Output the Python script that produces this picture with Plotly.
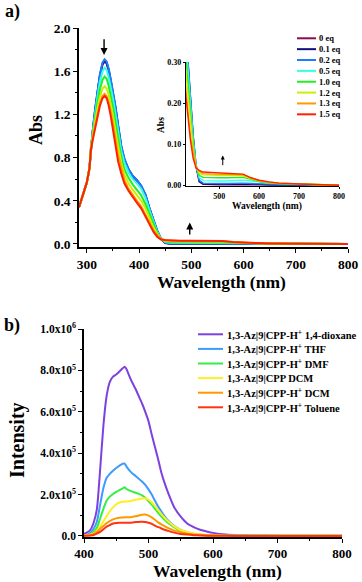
import plotly.graph_objects as go

# ---------------- Panel a: UV-vis titration ----------------
W_ABS = [285, 290, 295, 300, 305, 308, 312, 316, 320, 325, 330, 334, 338, 342, 346,
         350, 355, 360, 366, 372, 380, 388, 396, 404, 412, 420, 428, 435, 442, 450,
         460, 480, 500, 520, 540, 560, 580, 600, 625, 650, 700, 750, 800]

EQ_LABELS = ["0 eq", "0.1 eq", "0.2 eq", "0.5 eq", "1.0 eq", "1.2 eq", "1.3 eq", "1.5 eq"]
EQ_COLORS = ["#8B0A50", "#10107A", "#1E7BFF", "#33FFE6", "#22EE22", "#CCEE00", "#FF9900", "#FF2200"]

ABS_0 = [0.34, 0.41, 0.49, 0.57, 0.70, 0.90, 1.07, 1.24, 1.38, 1.55, 1.66, 1.69, 1.67, 1.60, 1.50,
         1.40, 1.25, 1.08, 0.89, 0.77, 0.68, 0.62, 0.58, 0.53, 0.45, 0.32, 0.20, 0.11, 0.045, 0.008,
         0.002, 0.001, 0.001, 0.001, 0.001, 0.001, 0.001, 0.001, 0.0, 0.0, 0.0, 0.0, 0.0]
ABS_01 = [0.34, 0.41, 0.49, 0.57, 0.70, 0.90, 1.08, 1.25, 1.39, 1.56, 1.67, 1.70, 1.68, 1.61, 1.51,
          1.41, 1.26, 1.09, 0.90, 0.78, 0.69, 0.63, 0.59, 0.54, 0.46, 0.33, 0.21, 0.12, 0.05, 0.010,
          0.003, 0.002, 0.002, 0.002, 0.002, 0.003, 0.002, 0.002, 0.001, 0.001, 0.0, 0.0, 0.0]
ABS_02 = [0.34, 0.41, 0.49, 0.57, 0.70, 0.90, 1.08, 1.25, 1.40, 1.57, 1.68, 1.71, 1.69, 1.62, 1.52,
          1.42, 1.27, 1.10, 0.91, 0.79, 0.69, 0.63, 0.59, 0.54, 0.46, 0.33, 0.21, 0.12, 0.05, 0.012,
          0.005, 0.004, 0.004, 0.004, 0.005, 0.005, 0.004, 0.003, 0.002, 0.002, 0.001, 0.001, 0.0]
ABS_05 = [0.34, 0.41, 0.49, 0.57, 0.70, 0.90, 1.06, 1.22, 1.35, 1.50, 1.60, 1.63, 1.61, 1.54, 1.45,
          1.35, 1.20, 1.04, 0.86, 0.75, 0.66, 0.60, 0.56, 0.51, 0.43, 0.31, 0.20, 0.11, 0.05, 0.018,
          0.011, 0.010, 0.010, 0.010, 0.011, 0.012, 0.010, 0.007, 0.005, 0.004, 0.002, 0.001, 0.0]
ABS_10 = [0.34, 0.41, 0.49, 0.57, 0.70, 0.89, 1.04, 1.18, 1.30, 1.43, 1.52, 1.55, 1.53, 1.46, 1.37,
          1.27, 1.12, 0.96, 0.80, 0.69, 0.61, 0.55, 0.50, 0.45, 0.37, 0.27, 0.17, 0.10, 0.045, 0.024,
          0.019, 0.018, 0.018, 0.018, 0.019, 0.019, 0.014, 0.009, 0.006, 0.004, 0.002, 0.001, 0.0]
ABS_12 = [0.34, 0.41, 0.49, 0.57, 0.70, 0.89, 1.02, 1.14, 1.25, 1.36, 1.44, 1.46, 1.44, 1.38, 1.29,
          1.19, 1.04, 0.89, 0.75, 0.64, 0.56, 0.50, 0.45, 0.40, 0.33, 0.24, 0.15, 0.09, 0.045, 0.030,
          0.025, 0.024, 0.024, 0.024, 0.024, 0.023, 0.016, 0.010, 0.007, 0.005, 0.003, 0.001, 0.0]
ABS_13 = [0.34, 0.41, 0.49, 0.57, 0.70, 0.88, 1.00, 1.10, 1.20, 1.30, 1.37, 1.39, 1.37, 1.31, 1.22,
          1.12, 0.97, 0.82, 0.69, 0.59, 0.51, 0.45, 0.40, 0.35, 0.28, 0.20, 0.12, 0.08, 0.045, 0.034,
          0.028, 0.027, 0.027, 0.027, 0.026, 0.025, 0.017, 0.011, 0.007, 0.005, 0.003, 0.001, 0.0]
ABS_15 = [0.34, 0.41, 0.49, 0.57, 0.70, 0.88, 0.98, 1.07, 1.17, 1.28, 1.35, 1.37, 1.35, 1.28, 1.18,
          1.07, 0.92, 0.76, 0.65, 0.56, 0.49, 0.43, 0.38, 0.33, 0.26, 0.18, 0.11, 0.065, 0.042, 0.036,
          0.032, 0.031, 0.030, 0.029, 0.028, 0.027, 0.018, 0.012, 0.008, 0.005, 0.003, 0.001, 0.0]
ABS_SERIES = [ABS_0, ABS_01, ABS_02, ABS_05, ABS_10, ABS_12, ABS_13, ABS_15]

ABS_XTICKS = [300, 400, 500, 600, 700, 800]
ABS_YTICKS = [0.0, 0.4, 0.8, 1.2, 1.6, 2.0]
INSET_XTICKS = [500, 600, 700, 800]
INSET_YTICKS = [0.0, 0.1, 0.2, 0.3]

# ---------------- Panel b: emission ----------------
W_EM = [400, 405, 410, 415, 420, 425, 430, 435, 440, 445, 450, 455, 460, 463, 466, 470, 475,
        480, 485, 490, 495, 500, 505, 510, 515, 520, 525, 530, 540, 550, 560, 570, 580, 590,
        600, 620, 640, 660, 700, 750, 800]

EM_LABELS = ["1,3-Az|9|CPP-H<sup>+</sup> 1,4-dioxane", "1,3-Az|9|CPP-H<sup>+</sup> THF",
             "1,3-Az|9|CPP-H<sup>+</sup> DMF", "1,3-Az|9|CPP DCM",
             "1,3-Az|9|CPP-H<sup>+</sup> DCM", "1,3-Az|9|CPP-H<sup>+</sup> Toluene"]
EM_COLORS = ["#7F40E0", "#3D9BFF", "#33EE44", "#FFEE22", "#FF9900", "#FF3311"]

EM_DIOXANE = [1.0e4, 1.7e4, 3.0e4, 6.5e4, 1.3e5, 3.2e5, 5.3e5, 6.75e5, 7.45e5, 7.7e5, 7.8e5, 7.95e5,
              8.1e5, 8.18e5, 8.05e5, 7.75e5, 7.4e5, 7.1e5, 6.75e5, 6.4e5, 6.0e5, 5.55e5, 4.9e5,
              4.3e5, 3.7e5, 3.05e5, 2.55e5, 2.12e5, 1.38e5, 9.3e4, 6.0e4, 4.3e4, 3.0e4, 2.2e4,
              1.5e4, 7e3, 4e3, 2.5e3, 1.5e3, 1e3, 1e3]
EM_THF = [3e3, 6e3, 1.6e4, 3.5e4, 7e4, 1.5e5, 2.3e5, 2.8e5, 3.0e5, 3.15e5, 3.28e5, 3.4e5,
          3.49e5, 3.5e5, 3.35e5, 3.18e5, 3.02e5, 2.9e5, 2.77e5, 2.63e5, 2.47e5, 2.25e5, 2.0e5,
          1.7e5, 1.42e5, 1.18e5, 9.5e4, 7.6e4, 4.8e4, 2.9e4, 1.8e4, 1.0e4, 6e3, 3e3,
          2e3, 1e3, 500, 500, 500, 500, 500]
EM_DMF = [2e3, 4e3, 8e3, 2e4, 4e4, 8.5e4, 1.3e5, 1.7e5, 1.9e5, 2.03e5, 2.13e5, 2.22e5,
          2.3e5, 2.35e5, 2.27e5, 2.2e5, 2.14e5, 2.09e5, 2.03e5, 1.96e5, 1.85e5, 1.68e5, 1.52e5,
          1.32e5, 1.12e5, 9.4e4, 7.8e4, 6.4e4, 4.2e4, 2.6e4, 1.6e4, 9e3, 6e3, 4e3,
          2.5e3, 1e3, 500, 500, 500, 500, 500]
EM_CPP_DCM = [2e3, 3e3, 6e3, 1.2e4, 2.5e4, 4.6e4, 7e4, 9.6e4, 1.2e5, 1.38e5, 1.53e5, 1.62e5,
              1.65e5, 1.67e5, 1.67e5, 1.68e5, 1.71e5, 1.75e5, 1.78e5, 1.81e5, 1.82e5, 1.75e5, 1.62e5,
              1.45e5, 1.25e5, 1.06e5, 8.8e4, 7.2e4, 4.6e4, 2.9e4, 1.9e4, 1.2e4, 8e3, 5e3,
              3e3, 1.5e3, 500, 500, 500, 500, 500]
EM_DCM = [1e3, 2e3, 4e3, 1e4, 2e4, 3.5e4, 4.8e4, 6.2e4, 7.2e4, 8e4, 8.5e4, 8.8e4,
          8.9e4, 9.0e4, 9.0e4, 9.0e4, 9.2e4, 9.5e4, 9.9e4, 1.03e5, 1.04e5, 9.8e4, 9.0e4,
          7.8e4, 6.6e4, 5.6e4, 4.7e4, 3.9e4, 2.6e4, 1.8e4, 1.1e4, 7e3, 4.5e3, 3e3,
          2e3, 1e3, 500, 500, 500, 500, 500]
EM_TOLUENE = [1e3, 1.5e3, 2.5e3, 5e3, 1.2e4, 2.0e4, 3.2e4, 4.5e4, 5.3e4, 6.0e4, 6.3e4, 6.4e4,
              6.4e4, 6.4e4, 6.4e4, 6.4e4, 6.5e4, 6.7e4, 6.8e4, 6.9e4, 6.8e4, 6.4e4, 5.8e4,
              5.0e4, 4.3e4, 3.6e4, 3.0e4, 2.5e4, 1.6e4, 1.0e4, 6.5e3, 4e3, 2.5e3, 1.5e3,
              1e3, 500, 300, 300, 300, 300, 300]
EM_SERIES = [EM_DIOXANE, EM_THF, EM_DMF, EM_CPP_DCM, EM_DCM, EM_TOLUENE]

EM_XTICKS = [400, 500, 600, 700, 800]
EM_YTICKS = [0, 2e5, 4e5, 6e5, 8e5, 1e6]
EM_YTICKTEXT = ["0.0", "2.0x10<sup>5</sup>", "4.0x10<sup>5</sup>", "6.0x10<sup>5</sup>",
                "8.0x10<sup>5</sup>", "1.0x10<sup>6</sup>"]

# ---------------- Figure ----------------
W, H = 362, 582
FONT = "Liberation Serif"


def px(x):
    return x / W


def py(y):
    return 1 - y / H


fig = go.Figure()

for lab, vals, col in zip(EQ_LABELS, ABS_SERIES, EQ_COLORS):
    fig.add_trace(go.Scatter(x=W_ABS, y=vals, mode="lines", name=lab,
                             line=dict(color=col, width=2), xaxis="x", yaxis="y",
                             showlegend=False))
for lab, vals, col in zip(EQ_LABELS, ABS_SERIES, EQ_COLORS):
    fig.add_trace(go.Scatter(x=W_ABS, y=vals, mode="lines", name=lab,
                             line=dict(color=col, width=1.4), xaxis="x2", yaxis="y2",
                             showlegend=False))
for lab, vals, col in zip(EM_LABELS, EM_SERIES, EM_COLORS):
    fig.add_trace(go.Scatter(x=W_EM, y=vals, mode="lines", name=lab,
                             line=dict(color=col, width=2, shape="spline", smoothing=0.6),
                             xaxis="x3", yaxis="y3", showlegend=False))

axis_common = dict(showline=True, linecolor="black", linewidth=1.5, ticks="outside",
                   tickcolor="black", tickwidth=1.3, showgrid=False, zeroline=False,
                   mirror=False, automargin=False)

fig.update_layout(
    width=W, height=H, autosize=False,
    margin=dict(l=0, r=0, t=0, b=0, pad=0, autoexpand=False),
    paper_bgcolor="white", plot_bgcolor="rgba(0,0,0,0)",
    showlegend=False,
    font=dict(family=FONT, color="black"),
    xaxis=dict(domain=[px(79), px(348)], range=[285, 800], tickvals=ABS_XTICKS, anchor="y",
               ticklen=4, tickfont=dict(size=13.5, weight="bold", family=FONT),
               minor=dict(tickvals=[350, 450, 550, 650, 750], ticks="outside", ticklen=2.5,
                          tickwidth=1, tickcolor="black"),
               **axis_common),
    yaxis=dict(domain=[py(247), py(28)], range=[-0.028, 2.0], tickvals=ABS_YTICKS,
               tickformat=".1f", anchor="x", ticklen=4,
               tickfont=dict(size=13.5, weight="bold", family=FONT),
               minor=dict(tickvals=[0.2, 0.6, 1.0, 1.4, 1.8], ticks="outside", ticklen=2.5,
                          tickwidth=1, tickcolor="black"),
               **axis_common),
    xaxis2=dict(domain=[px(186), px(339)], range=[417, 800], tickvals=INSET_XTICKS, anchor="y2",
                ticklen=2, tickfont=dict(size=8, weight="bold", family=FONT),
                **{**axis_common, "linewidth": 1.2}),
    yaxis2=dict(domain=[py(186), py(62)], range=[-0.002, 0.30], tickvals=INSET_YTICKS,
                tickformat=".2f", anchor="x2", ticklen=2,
                tickfont=dict(size=8, weight="bold", family=FONT),
                **{**axis_common, "linewidth": 1.2}),
    xaxis3=dict(domain=[px(84), px(342)], range=[400, 800], tickvals=EM_XTICKS, anchor="y3",
                ticklen=4, tickfont=dict(size=13, weight="bold", family=FONT),
                minor=dict(tickvals=[450, 550, 650, 750], ticks="outside", ticklen=2.5,
                           tickwidth=1, tickcolor="black"),
                **axis_common),
    yaxis3=dict(domain=[py(537), py(329)], range=[-5000, 1e6], tickvals=EM_YTICKS,
                ticktext=EM_YTICKTEXT, anchor="x3", ticklen=4,
                tickfont=dict(size=11.5, weight="bold", family=FONT),
                minor=dict(tickvals=[1e5, 3e5, 5e5, 7e5, 9e5], ticks="outside", ticklen=2.5,
                           tickwidth=1, tickcolor="black"),
                **axis_common),
)

ann = []
shapes = []


def label(text, x, y, size, angle=0, xanchor="center"):
    ann.append(dict(text="<b>%s</b>" % text, x=px(x), y=py(y), xref="paper", yref="paper",
                    xanchor=xanchor, yanchor="middle", textangle=angle, showarrow=False,
                    font=dict(size=size, family=FONT, color="black")))


# Panel labels
label("a)", 3, 11, 18, xanchor="left")
label("b)", 2, 325, 18, xanchor="left")

# Axis titles
label("Abs", 36, 130, 18, angle=-90)
label("Wavelength (nm)", 221, 282, 17.5)
label("Abs", 161, 125, 9.5, angle=-90)
label("Wavelength (nm)", 267, 206, 9.5)
label("Intensity", 17, 440, 20, angle=-90)
label("Wavelength (nm)", 217, 571, 17.5)

# Arrows
ann.append(dict(x=333, y=1.75, ax=333, ay=1.91, xref="x", yref="y", axref="x", ayref="y",
                text="", showarrow=True, arrowhead=2, arrowsize=1, arrowwidth=1.4,
                arrowcolor="black"))
ann.append(dict(x=497, y=0.20, ax=497, ay=0.075, xref="x", yref="y", axref="x", ayref="y",
                text="", showarrow=True, arrowhead=2, arrowsize=1, arrowwidth=1.4,
                arrowcolor="black"))
ann.append(dict(x=509, y=0.072, ax=509, ay=0.045, xref="x2", yref="y2", axref="x2", ayref="y2",
                text="", showarrow=True, arrowhead=2, arrowsize=0.8, arrowwidth=1,
                arrowcolor="black"))

# Legend a (drawn manually)
for i, (lab, col) in enumerate(zip(EQ_LABELS, EQ_COLORS)):
    yy = 38.3 + i * 10.86
    shapes.append(dict(type="line", xref="paper", yref="paper", x0=px(297), x1=px(316),
                       y0=py(yy), y1=py(yy), line=dict(color=col, width=2)))
    label(lab, 317, yy, 8.5, xanchor="left")

# Legend b (drawn manually)
for i, (lab, col) in enumerate(zip(EM_LABELS, EM_COLORS)):
    yy = 334.3 + i * 14.6
    shapes.append(dict(type="line", xref="paper", yref="paper", x0=px(198), x1=px(223),
                       y0=py(yy), y1=py(yy), line=dict(color=col, width=2)))
    label(lab, 225, yy, 10.5, xanchor="left")

fig.update_layout(annotations=ann, shapes=shapes)

fig.write_html(
    "out.html",
    config={"responsive": False, "displayModeBar": False},
    post_script="document.body.style.margin='0';document.body.style.padding='0';"
                "document.documentElement.style.overflow='hidden';",
)
